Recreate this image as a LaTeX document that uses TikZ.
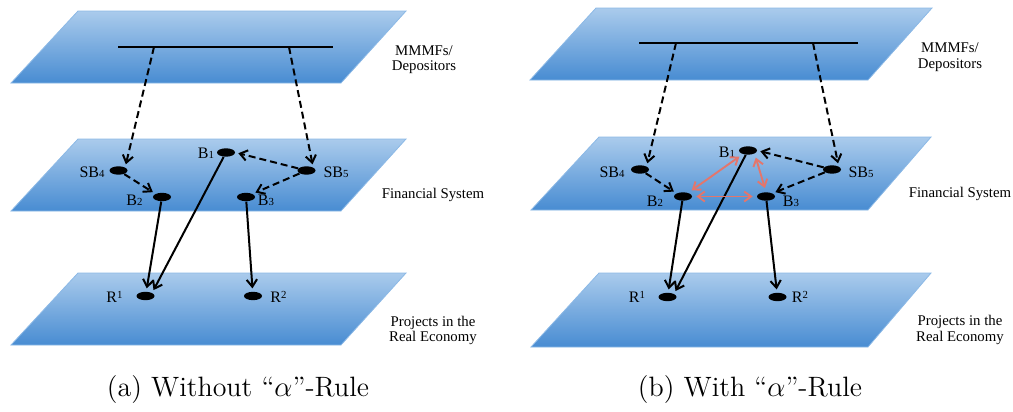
\documentclass[tikz,border=0pt]{standalone}
\usepackage{fontspec}
\newfontfamily\lbf{Liberation Serif}
\usetikzlibrary{arrows.meta,shapes.geometric}
\definecolor{planetop}{RGB}{170,203,236}
\definecolor{planebot}{RGB}{72,140,210}
\definecolor{planeedge}{RGB}{140,185,230}
\definecolor{linkred}{RGB}{228,118,108}
% small digits used in the bank and project labels
\newcommand\dg[1]{{\fontsize{5.4}{5.4}\selectfont #1}}
\newcommand\updg[1]{\raisebox{2.2pt}{\dg{#1}}}
% a slanted layer: top-left x, top y, top-right x, bottom-right x, bottom-left x, bottom y
\newcommand\slab[6]{\path[layerfill] (#1,#2) -- (#3,#2) -- (#4,#6) -- (#5,#6) -- cycle;}

\begin{document}
\begin{tikzpicture}[x=0.5pt,y=-0.5pt,
  layerfill/.style={top color=planetop,bottom color=planebot,draw=planeedge,line width=0.4pt},
  bankdot/.style={ellipse,fill=black,minimum width=9pt,minimum height=4.2pt,inner sep=0pt},
  nlab/.style={font=\lbf\fontsize{8}{8.5}\selectfont,inner sep=0pt},
  plab/.style={font=\lbf\fontsize{7.4}{7.7}\selectfont,align=center,inner sep=0pt},
  captxt/.style={font=\fontsize{14}{16}\selectfont,inner sep=0pt},
  barbtip/.style={-{Straight Barb[length=3.6pt,width=5.2pt,line width=1pt]}},
  fundflow/.style={barbtip,dash pattern=on 3.5pt off 2pt,line width=1pt,shorten >=1.5pt},
  loanflow/.style={barbtip,line width=1pt,shorten >=1.5pt},
  interlink/.style={{Straight Barb[length=3.4pt,width=5pt]}-{Straight Barb[length=3.4pt,width=5pt]},draw=linkred,line width=0.95pt,shorten <=2pt,shorten >=2pt},
  topbar/.style={line width=1.1pt}]
\useasboundingbox (0,0) rectangle (1013,412);

% ---------------- (a) without the rule ----------------
\slab{78}{11}{406}{341}{11}{83}
\slab{78}{139}{406}{341}{11}{211}
\slab{78}{273}{406}{341}{11}{345}

\coordinate (L-m0) at (118,47);
\coordinate (L-m1) at (333,47);
\coordinate (L-d4) at (154,47);
\coordinate (L-d5) at (289,47);
\draw[topbar] (L-m0) -- (L-m1);

\node[bankdot] (L-B1)  at (226,152.5) {};
\node[bankdot] (L-SB4) at (118.5,170.5) {};
\node[bankdot] (L-SB5) at (306.5,170.5) {};
\node[bankdot] (L-B2)  at (162,197) {};
\node[bankdot] (L-B3)  at (246,197) {};
\node[bankdot] (L-R1)  at (145.5,296) {};
\node[bankdot] (L-R2)  at (253,296) {};

\node[nlab] (L-B1-t)  at (206,153)   {B\dg{1}};
\node[nlab] (L-SB4-t) at (92,172)    {SB\dg{4}};
\node[nlab] (L-SB5-t) at (336,172)   {SB\dg{5}};
\node[nlab] (L-B2-t)  at (134.5,200) {B\dg{2}};
\node[nlab] (L-B3-t)  at (266,200)   {B\dg{3}};
\node[nlab] (L-R1-t)  at (114.5,297) {R\updg{1}};
\node[nlab] (L-R2-t)  at (278.5,297) {R\updg{2}};

\node[plab] (L-top) at (424,59.5) {MMMFs/\\Depositors};
\node[plab] (L-mid) at (433,195)  {Financial System};
\node[plab] (L-bot) at (433,330.5){Projects in the\\Real Economy};

\draw[fundflow] (L-d4) -- (L-SB4.north east);
\draw[fundflow] (L-d5) -- (L-SB5.north east);
\draw[fundflow] (L-SB4) -- (L-B2.north west);
\draw[fundflow] (L-SB5) -- (L-B1.east);
\draw[fundflow] (L-SB5) -- (L-B3.north east);
\draw[loanflow] (L-B2) -- (L-R1);
\draw[loanflow] (L-B1) -- (L-R1.north east);
\draw[loanflow] (L-B3) -- (L-R2);

\node[captxt] (L-cap) at (238,390) {(a) Without ``$\alpha$''-Rule};

% ---------------- (b) with the rule ----------------
\slab{596}{8}{932}{868}{530}{80}
\slab{599}{137}{931}{868}{531}{210}
\slab{599}{273}{931}{868}{531}{347}

\coordinate (R-m0) at (639,43);
\coordinate (R-m1) at (858,43);
\coordinate (R-d4) at (676,43);
\coordinate (R-d5) at (813,43);
\draw[topbar] (R-m0) -- (R-m1);

\node[bankdot] (R-B1)  at (748,150.5) {};
\node[bankdot] (R-SB4) at (640,169.5) {};
\node[bankdot] (R-SB5) at (832,169.5) {};
\node[bankdot] (R-B2)  at (683,196.5) {};
\node[bankdot] (R-B3)  at (766,196.5) {};
\node[bankdot] (R-R1)  at (667.5,297) {};
\node[bankdot] (R-R2)  at (777.5,297) {};

\node[nlab] (R-B1-t)  at (727,152) {B\dg{1}};
\node[nlab] (R-SB4-t) at (612,172) {SB\dg{4}};
\node[nlab] (R-SB5-t) at (861,172) {SB\dg{5}};
\node[nlab] (R-B2-t)  at (655,201) {B\dg{2}};
\node[nlab] (R-B3-t)  at (791,201) {B\dg{3}};
\node[nlab] (R-R1-t)  at (637,297) {R\updg{1}};
\node[nlab] (R-R2-t)  at (800,297) {R\updg{2}};

\node[plab] (R-top) at (950,57)  {MMMFs/\\Depositors};
\node[plab] (R-mid) at (960,194) {Financial System};
\node[plab] (R-bot) at (960,330) {Projects in the\\Real Economy};

\draw[fundflow] (R-d4) -- (R-SB4.north east);
\draw[fundflow] (R-d5) -- (R-SB5.north east);
\draw[fundflow] (R-SB4) -- (R-B2.north west);
\draw[fundflow] (R-SB5) -- (R-B1.east);
\draw[fundflow] (R-SB5) -- (R-B3.north east);
\draw[loanflow] (R-B2) -- (R-R1);
\draw[loanflow] (R-B1) -- (R-R1.north east);
\draw[loanflow] (R-B3) -- (R-R2);

\draw[interlink] (R-B2) -- (R-B1);
\draw[interlink] (R-B2) -- (R-B3);
\draw[interlink] (R-B1.south east) -- (R-B3.north);

\node[captxt] (R-cap) at (750,390) {(b) With ``$\alpha$''-Rule};
\end{tikzpicture}
\end{document}
